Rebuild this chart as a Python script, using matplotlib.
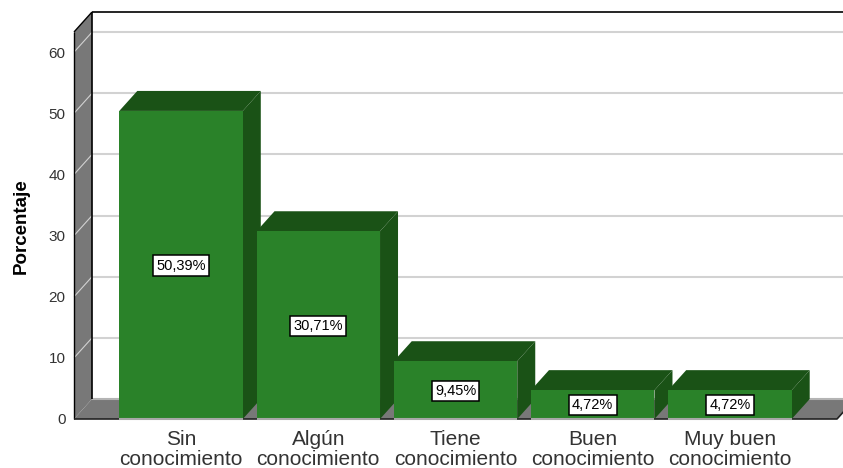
import matplotlib
matplotlib.use('Agg')
import matplotlib.pyplot as plt
from matplotlib.patches import Polygon

plt.rcParams['font.family'] = ['Liberation Sans', 'DejaVu Sans']

categories = ['Sin\nconocimiento', 'Algún\nconocimiento', 'Tiene\nconocimiento',
              'Buen\nconocimiento', 'Muy buen\nconocimiento']
porcentajes = [50.39, 30.71, 9.45, 4.72, 4.72]
y_ticks = [0, 10, 20, 30, 40, 50, 60]

WALL = '#787878'
GRID = '#d2d2d2'
FRONT = '#2a8229'
DARK = '#1a5216'

W, H = 843, 468
fig = plt.figure(figsize=(W / 100, H / 100), dpi=100)
ax = fig.add_axes([74 / W, (H - 419) / H, (837 - 74) / W, (419 - 32) / H])

xmin, xmax = -0.78, 4.78
ymin, ymax = 0, 63.3
ax.set_xlim(xmin, xmax)
ax.set_ylim(ymin, ymax)

# depth of the fake 3d box, in data units
dx = 18 / 137.25
dy = 20 / 6.117
bar_w = 0.9


def poly(points, color, z, edge='none', lw=0):
    ax.add_patch(Polygon(points, closed=True, facecolor=color, edgecolor=edge,
                         linewidth=lw, zorder=z, clip_on=False))


def line(xs, ys, color, lw, z):
    ax.plot(xs, ys, color=color, linewidth=lw, zorder=z, clip_on=False,
            solid_capstyle='butt')


# left wall and floor
poly([(xmin, ymin), (xmin + dx, ymin + dy), (xmin + dx, ymax + dy), (xmin, ymax)], WALL, 1)
poly([(xmin, ymin), (xmax, ymin), (xmax + dx, ymin + dy), (xmin + dx, ymin + dy)], WALL, 1)

# gridlines on back wall and wall
for t in y_ticks[1:]:
    line([xmin + dx, xmax + dx], [t + dy, t + dy], GRID, 1.5, 2)
    line([xmin, xmin + dx], [t, t + dy], GRID, 0.8, 2)
line([xmin + dx, xmax + dx], [dy, dy], '#b4b4b4', 1.5, 2)

# box outline
line([xmin, xmin], [ymin, ymax], 'black', 1.0, 3)
line([xmin + dx, xmin + dx], [ymin + dy, ymax + dy], 'black', 1.2, 3)
line([xmin, xmin + dx], [ymax, ymax + dy], 'black', 1.0, 3)
line([xmin + dx, xmax + dx], [ymax + dy, ymax + dy], 'black', 1.2, 3)
line([xmin, xmax, xmax + dx], [ymin, ymin, ymin + dy], '#222222', 1.2, 3)

# bars
for i, v in enumerate(porcentajes):
    x0 = i - bar_w / 2
    x1 = i + bar_w / 2
    z = 4 + i
    poly([(x1, 0), (x1 + dx, dy), (x1 + dx, v + dy), (x1, v)], DARK, z)
    poly([(x0, v), (x1, v), (x1 + dx, v + dy), (x0 + dx, v + dy)], DARK, z)
    ax.bar(i, v, width=bar_w, color=FRONT, zorder=z + 0.1)
    ax.patches[-1].set_clip_on(False)
    line([x0, x1], [0, 0], '#a8a8a8', 1.5, z + 0.2)
    ax.text(i, v / 2 - 0.1, f'{v:.2f}%'.replace('.', ','), fontsize=10.5, color='black',
            ha='center', va='center', zorder=20,
            bbox=dict(boxstyle='square,pad=0.22', facecolor='white', edgecolor='black', linewidth=1.1))

for s in ax.spines.values():
    s.set_visible(False)
ax.patch.set_visible(False)

ax.set_yticks(y_ticks)
ax.set_xticks(range(len(categories)))
ax.set_xticklabels(categories, fontsize=15, color='#333333', linespacing=1.05)
ax.tick_params(axis='x', length=0, pad=8)
ax.tick_params(axis='y', length=0, pad=6, labelsize=11, labelcolor='#333333')
ax.set_ylabel('Porcentaje', fontsize=13.5, fontweight='bold', color='black')
ax.yaxis.set_label_coords((30 - 74) / (837 - 74), (419 - 226) / (419 - 32))

fig.savefig('out.png', dpi=100)
